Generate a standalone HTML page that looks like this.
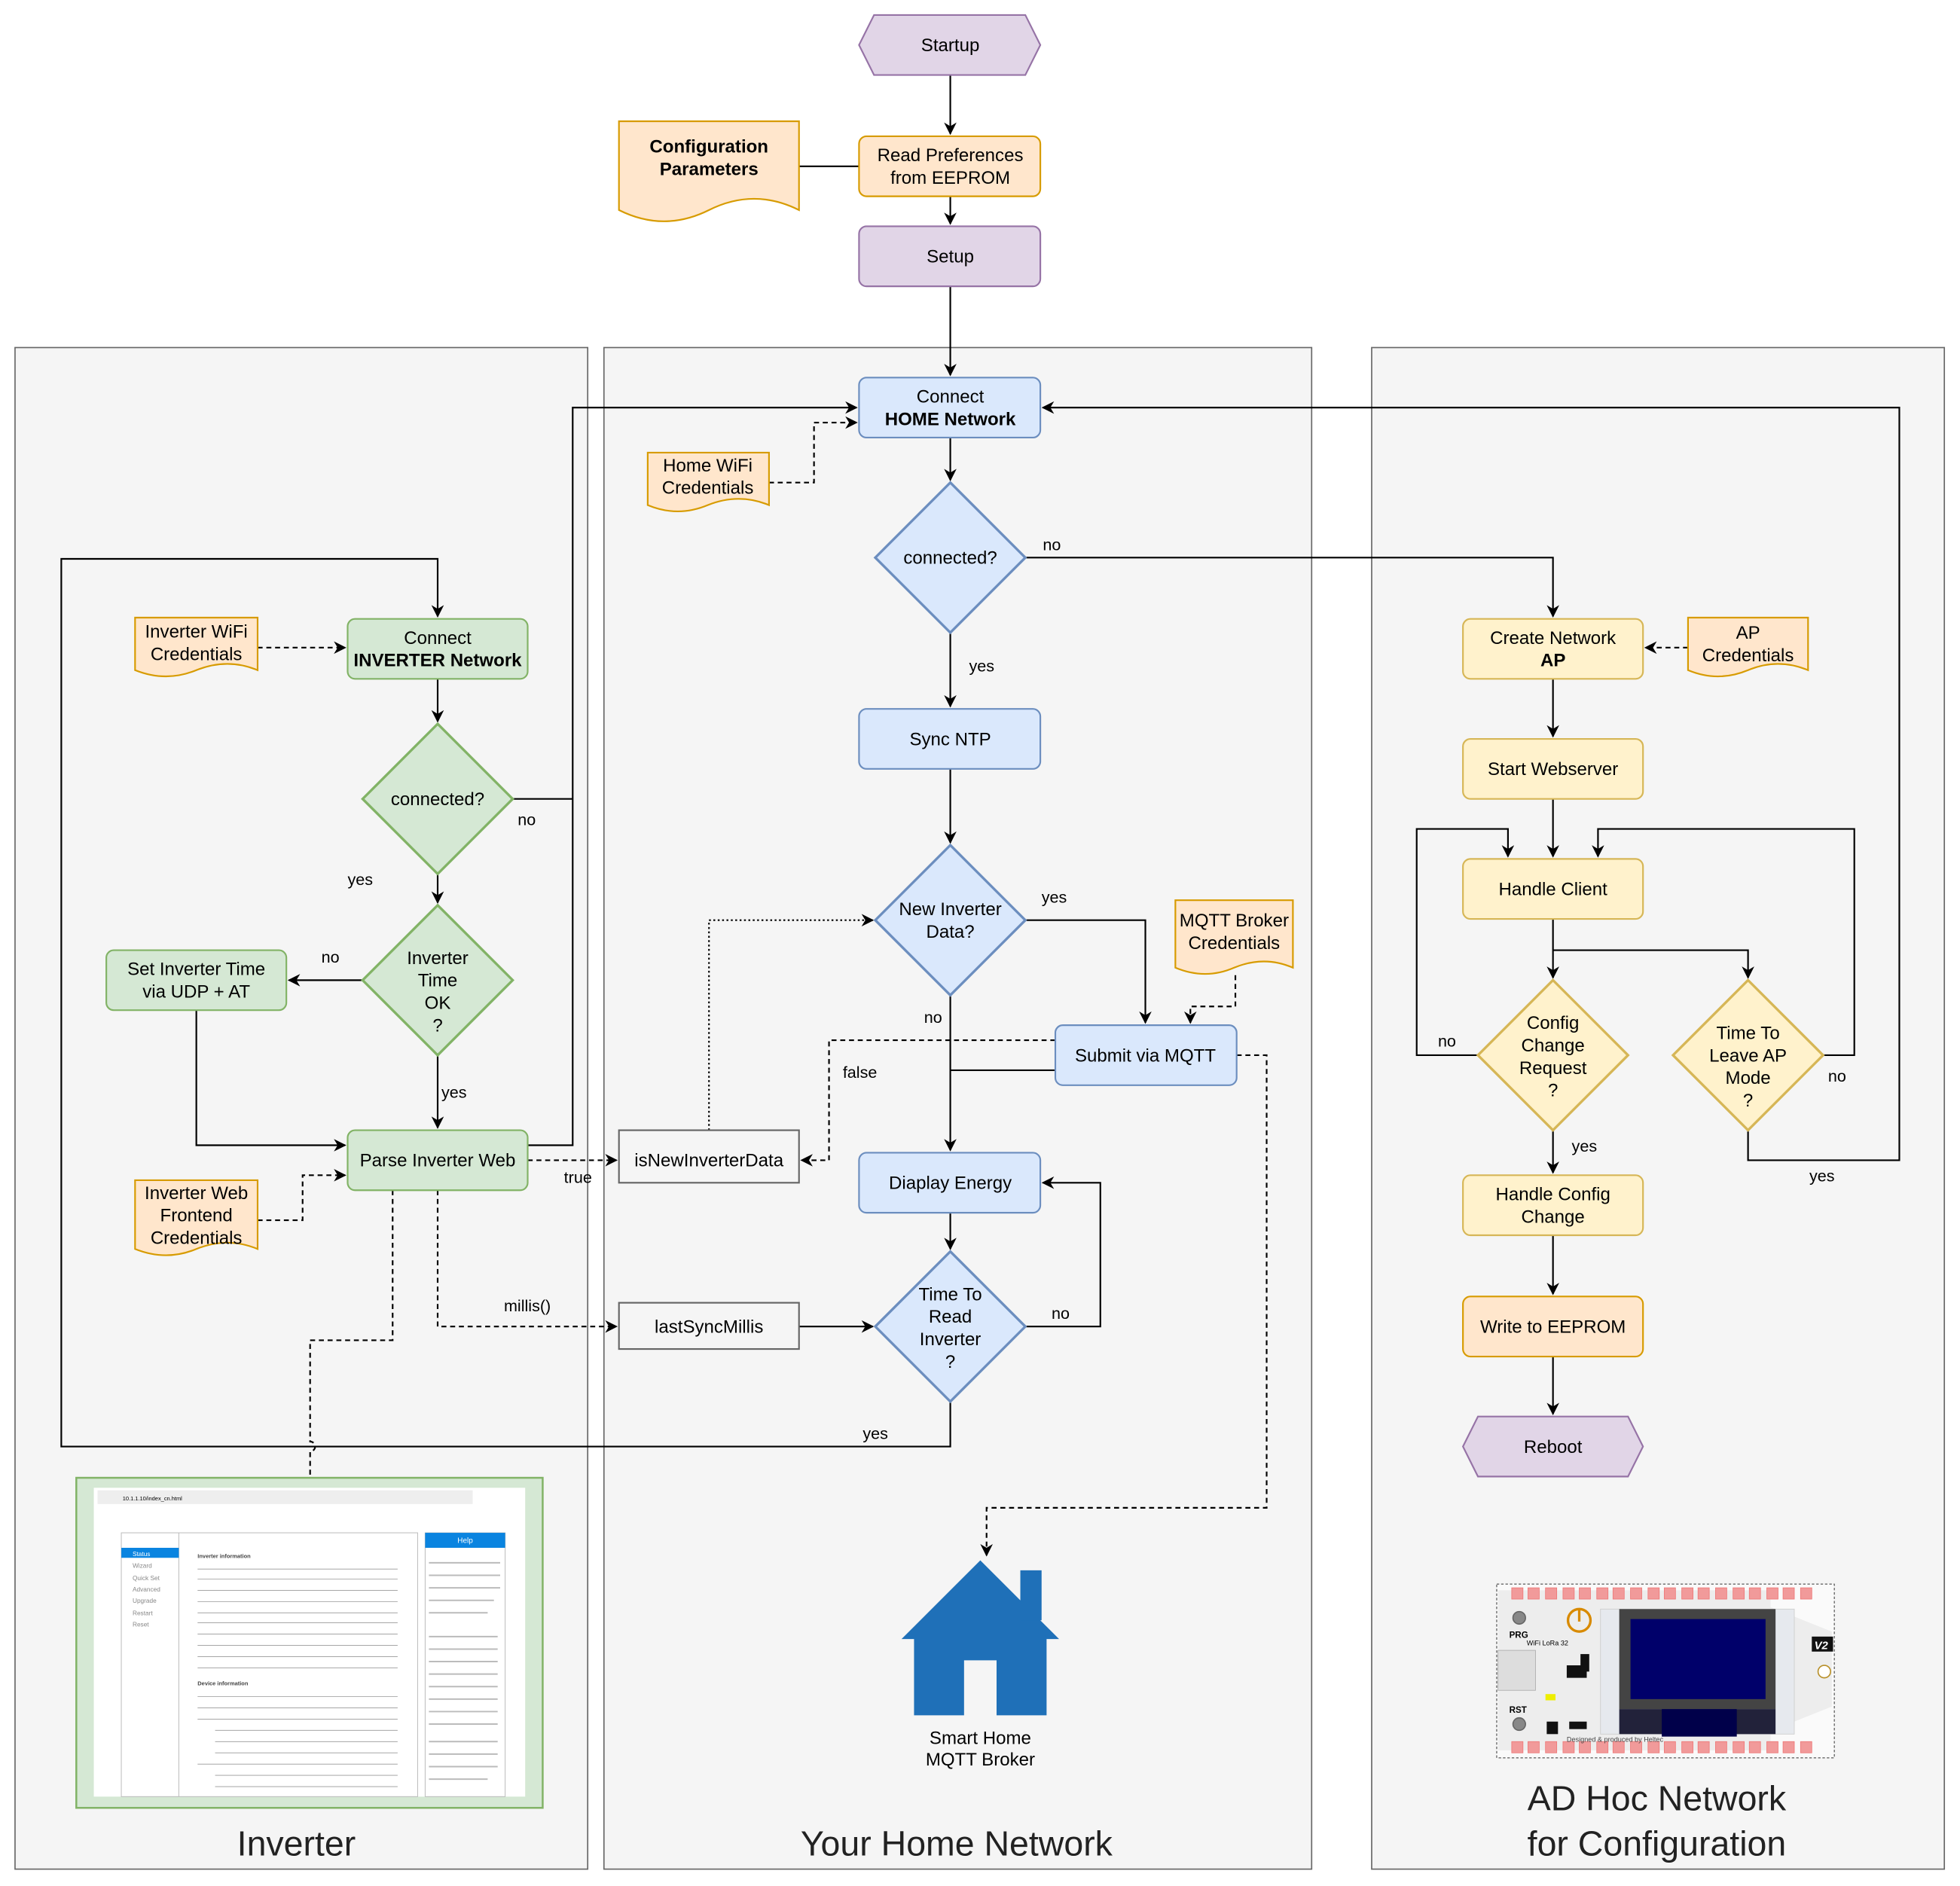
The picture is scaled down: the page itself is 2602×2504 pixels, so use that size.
<!DOCTYPE html>
<html><head><meta charset="utf-8"><style>
html,body{margin:0;padding:0;background:#fff}
svg{display:block}
text{font-family:"Liberation Sans","Noto Sans CJK SC",sans-serif;font-size:14.5px;fill:#000}
.c{text-anchor:middle}
.l{font-size:13px}
.big{font-size:28px;fill:#222}
.ln{fill:none;stroke:#000;stroke-width:1.3}
.d{stroke-dasharray:4 3}
.dt{stroke-dasharray:1.5 2}
.s5 text{font-size:5px;fill:#888}
</style></head><body>
<svg width="2602" height="2504" viewBox="0 0 1567.5 1508.5" xmlns="http://www.w3.org/2000/svg">
<defs>
<marker id="a" markerUnits="userSpaceOnUse" markerWidth="12" markerHeight="12" refX="9" refY="5" orient="auto"><path d="M0,0 L10,5 L0,10 L3,5 Z" fill="#000"/></marker>
</defs>
<rect width="1567.5" height="1508.5" fill="#fff"/>
<!-- containers -->
<rect x="12" y="278" width="458" height="1217" fill="#f5f5f5" stroke="#666"/>
<rect x="483" y="278" width="566" height="1217" fill="#f5f5f5" stroke="#666"/>
<rect x="1097" y="278" width="458" height="1217" fill="#f5f5f5" stroke="#666"/>
<text class="c big" x="237" y="1484">Inverter</text>
<text class="c big" x="765" y="1484">Your Home Network</text>
<text class="c big" x="1325" y="1448">AD Hoc Network</text>
<text class="c big" x="1325" y="1484">for Configuration</text>

<!-- connectors -->
<g class="ln">
<path d="M760,60 V107" marker-end="url(#a)"/>
<path d="M760,157 V179" marker-end="url(#a)"/>
<path d="M639,133 H687"/>
<path d="M760,229 V300" marker-end="url(#a)"/>
<path class="d" d="M615,386 H651 V338 H685" marker-end="url(#a)"/>
<path d="M760,350 V384" marker-end="url(#a)"/>
<path d="M820,446 H1242 V493" marker-end="url(#a)"/>
<path d="M760,506 V565" marker-end="url(#a)"/>
<path d="M760,615 V674" marker-end="url(#a)"/>
<path d="M820,736 H916 V818" marker-end="url(#a)"/>
<path d="M760,796 V920" marker-end="url(#a)"/>
<path d="M844,856 H760"/>
<path class="d" d="M988,780 V805 H952 V818" marker-end="url(#a)"/>
<path class="d" d="M989,844 H1013 V1206 H789 V1244" marker-end="url(#a)"/>
<path class="d" d="M844,832 H663 V928 H641" marker-end="url(#a)"/>
<path class="dt" d="M567,904 V736 H698" marker-end="url(#a)"/>
<path d="M760,970 V999" marker-end="url(#a)"/>
<path d="M820,1061 H880 V946 H834" marker-end="url(#a)"/>
<path d="M760,1121 V1157 H49 V447 H350 V493" marker-end="url(#a)"/>
<path d="M639,1061 H698" marker-end="url(#a)"/>
<path class="d" d="M350,952 V1061 H493" marker-end="url(#a)"/>
<path class="d" d="M422,928 H493" marker-end="url(#a)"/>
<path d="M422,916 H458 V326 H685" marker-end="url(#a)"/>
<path d="M410,639 H458"/>
<path class="d" d="M206,518 H276" marker-end="url(#a)"/>
<path d="M350,543 V577" marker-end="url(#a)"/>
<path d="M350,699 V722" marker-end="url(#a)"/>
<path d="M290,784 H231" marker-end="url(#a)"/>
<path d="M350,844 V902" marker-end="url(#a)"/>
<path d="M157,808 V916 H276" marker-end="url(#a)"/>
<path class="d" d="M206,976 H242 V940 H276" marker-end="url(#a)"/>
<path class="d" d="M314,952 V1072 H248 V1153 A4,4 0 0 1 248,1161 V1182"/>
<path d="M1398,904 V928 H1519 V326 H834" marker-end="url(#a)"/>
<path class="d" d="M1350,518 H1316" marker-end="url(#a)"/>
<path d="M1242,543 V589" marker-end="url(#a)"/>
<path d="M1242,639 V685" marker-end="url(#a)"/>
<path d="M1242,735 V782" marker-end="url(#a)"/>
<path d="M1242,760 H1398 V782" marker-end="url(#a)"/>
<path d="M1182,844 H1133 V663 H1206 V685" marker-end="url(#a)"/>
<path d="M1458,844 H1483 V663 H1278 V685" marker-end="url(#a)"/>
<path d="M1242,904 V938" marker-end="url(#a)"/>
<path d="M1242,988 V1035" marker-end="url(#a)"/>
<path d="M1242,1085 V1131" marker-end="url(#a)"/>
</g>

<!-- edge labels -->
<g class="l">
<text x="834" y="440" class="l">no</text>
<text x="775" y="537" class="l">yes</text>
<text x="833" y="722" class="l">yes</text>
<text x="739" y="818" class="l">no</text>
<text x="674" y="862" class="l">false</text>
<text x="841" y="1055" class="l">no</text>
<text x="690" y="1151" class="l">yes</text>
<text x="403" y="1049" class="l">millis()</text>
<text x="451" y="946" class="l">true</text>
<text x="414" y="660" class="l">no</text>
<text x="278" y="708" class="l">yes</text>
<text x="257" y="770" class="l">no</text>
<text x="353" y="878" class="l">yes</text>
<text x="1447" y="945" class="l">yes</text>
<text x="1150" y="837" class="l">no</text>
<text x="1462" y="865" class="l">no</text>
<text x="1257" y="921" class="l">yes</text>
</g>

<!-- purple -->
<path d="M699,12 H820 L832,36 L820,60 H699 L687,36 Z" fill="#e1d5e7" stroke="#9673a6" stroke-width="1.3"/>
<text class="c" x="760" y="41">Startup</text>
<rect x="687" y="181" width="145" height="48" rx="6" fill="#e1d5e7" stroke="#9673a6" stroke-width="1.3"/>
<text class="c" x="760" y="210">Setup</text>
<path d="M1182,1133 H1302 L1314,1157 L1302,1181 H1182 L1170,1157 Z" fill="#e1d5e7" stroke="#9673a6" stroke-width="1.3"/>
<text class="c" x="1242" y="1162">Reboot</text>

<!-- orange -->
<rect x="687" y="109" width="145" height="48" rx="6" fill="#ffe6cc" stroke="#d79b00" stroke-width="1.3"/>
<text class="c" x="760" y="129">Read Preferences</text>
<text class="c" x="760" y="147">from EEPROM</text>
<rect x="1170" y="1037" width="144" height="48" rx="6" fill="#ffe6cc" stroke="#d79b00" stroke-width="1.3"/>
<text class="c" x="1242" y="1066">Write to EEPROM</text>

<!-- documents -->
<g fill="#ffe6cc" stroke="#d79b00" stroke-width="1.3">
<path d="M495,97 H639 V168 Q603,150 567,168 Q531,186 495,168 Z"/>
<path d="M518,362 H615 V404 Q591,394 566,404 Q542,414 518,404 Z"/>
<path d="M108,494 H206 V536 Q182,526 157,536 Q133,546 108,536 Z"/>
<path d="M108,944 H206 V999 Q182,989 157,999 Q133,1009 108,999 Z"/>
<path d="M940,720 H1034 V774 Q1011,764 987,774 Q964,784 940,774 Z"/>
<path d="M1350,494 H1446 V536 Q1422,526 1398,536 Q1374,546 1350,536 Z"/>
</g>
<text class="c" x="567" y="122" font-weight="bold">Configuration</text>
<text class="c" x="567" y="140" font-weight="bold">Parameters</text>
<text class="c" x="566" y="377">Home WiFi</text>
<text class="c" x="566" y="395">Credentials</text>
<text class="c" x="157" y="510">Inverter WiFi</text>
<text class="c" x="157" y="528">Credentials</text>
<text class="c" x="157" y="959">Inverter Web</text>
<text class="c" x="157" y="977">Frontend</text>
<text class="c" x="157" y="995">Credentials</text>
<text class="c" x="987" y="741">MQTT Broker</text>
<text class="c" x="987" y="759">Credentials</text>
<text class="c" x="1398" y="511">AP</text>
<text class="c" x="1398" y="529">Credentials</text>

<!-- blue -->
<g fill="#dae8fc" stroke="#6c8ebf" stroke-width="1.3">
<rect x="687" y="302" width="145" height="48" rx="6"/>
<path d="M760,386 L820,446 L760,506 L700,446 Z" stroke-width="2"/>
<rect x="687" y="567" width="145" height="48" rx="6"/>
<path d="M760,676 L820,736 L760,796 L700,736 Z" stroke-width="2"/>
<rect x="844" y="820" width="145" height="48" rx="6"/>
<rect x="687" y="922" width="145" height="48" rx="6"/>
<path d="M760,1001 L820,1061 L760,1121 L700,1061 Z" stroke-width="2"/>
</g>
<text class="c" x="760" y="322">Connect</text>
<text class="c" x="760" y="340" font-weight="bold">HOME Network</text>
<text class="c" x="760" y="451">connected?</text>
<text class="c" x="760" y="596">Sync NTP</text>
<text class="c" x="760" y="732">New Inverter</text>
<text class="c" x="760" y="750">Data?</text>
<text class="c" x="916" y="849">Submit via MQTT</text>
<text class="c" x="760" y="951">Diaplay Energy</text>
<text class="c" x="760" y="1040">Time To</text>
<text class="c" x="760" y="1058">Read</text>
<text class="c" x="760" y="1076">Inverter</text>
<text class="c" x="760" y="1094">?</text>

<!-- gray boxes -->
<rect x="495" y="904" width="144" height="42" fill="#f5f5f5" stroke="#666" stroke-width="1.3"/>
<text class="c" x="567" y="933" fill="#333">isNewInverterData</text>
<rect x="495" y="1042" width="144" height="37" fill="#f5f5f5" stroke="#666" stroke-width="1.3"/>
<text class="c" x="567" y="1066" fill="#333">lastSyncMillis</text>

<!-- green -->
<g fill="#d5e8d4" stroke="#82b366" stroke-width="1.3">
<rect x="278" y="495" width="144" height="48" rx="6"/>
<path d="M350,579 L410,639 L350,699 L290,639 Z" stroke-width="2"/>
<path d="M350,724 L410,784 L350,844 L290,784 Z" stroke-width="2"/>
<rect x="85" y="760" width="144" height="48" rx="6"/>
<rect x="278" y="904" width="144" height="48" rx="6"/>
</g>
<text class="c" x="350" y="515">Connect</text>
<text class="c" x="350" y="533" font-weight="bold">INVERTER Network</text>
<text class="c" x="350" y="644">connected?</text>
<text class="c" x="350" y="771">Inverter</text>
<text class="c" x="350" y="789">Time</text>
<text class="c" x="350" y="807">OK</text>
<text class="c" x="350" y="825">?</text>
<text class="c" x="157" y="780">Set Inverter Time</text>
<text class="c" x="157" y="798">via UDP + AT</text>
<text class="c" x="350" y="933">Parse Inverter Web</text>

<!-- yellow -->
<g fill="#fff2cc" stroke="#d6b656" stroke-width="1.3">
<rect x="1170" y="495" width="144" height="48" rx="6"/>
<rect x="1170" y="591" width="144" height="48" rx="6"/>
<rect x="1170" y="687" width="144" height="48" rx="6"/>
<path d="M1242,784 L1302,844 L1242,904 L1182,844 Z" stroke-width="2"/>
<path d="M1398,784 L1458,844 L1398,904 L1338,844 Z" stroke-width="2"/>
<rect x="1170" y="940" width="144" height="48" rx="6"/>
</g>
<text class="c" x="1242" y="515">Create Network</text>
<text class="c" x="1242" y="533" font-weight="bold">AP</text>
<text class="c" x="1242" y="620">Start Webserver</text>
<text class="c" x="1242" y="716">Handle Client</text>
<text class="c" x="1242" y="823">Config</text>
<text class="c" x="1242" y="841">Change</text>
<text class="c" x="1242" y="859">Request</text>
<text class="c" x="1242" y="877">?</text>
<text class="c" x="1398" y="831">Time To</text>
<text class="c" x="1398" y="849">Leave AP</text>
<text class="c" x="1398" y="867">Mode</text>
<text class="c" x="1398" y="885">?</text>
<text class="c" x="1242" y="960">Handle Config</text>
<text class="c" x="1242" y="978">Change</text>

<!-- house -->
<g fill="#1f70b8">
<path d="M784,1248 L847,1311 L837,1311 L837,1372 L797,1372 L797,1328 L771,1328 L771,1372 L731,1372 L731,1311 L721,1311 Z"/>
<rect x="816" y="1256" width="17" height="40"/>
</g>
<text class="c" x="784" y="1395">Smart Home</text>
<text class="c" x="784" y="1412">MQTT Broker</text>

<!-- screenshot -->
<rect x="61" y="1182" width="373" height="264" fill="#d5e8d4" stroke="#82b366" stroke-width="1.5"/>
<rect x="75" y="1190" width="345" height="247" fill="#fff"/>
<rect x="78" y="1192" width="300" height="11" fill="#eee"/>
<text x="98" y="1200" style="font-size:4.5px" fill="#555">10.1.1.10/index_cn.html</text>
<rect x="97" y="1226" width="237" height="211" fill="#fff" stroke="#bbb" stroke-width="0.6"/>
<line x1="143" y1="1226" x2="143" y2="1437" stroke="#bbb" stroke-width="0.6"/>
<rect x="97" y="1238" width="46" height="8" fill="#0a84e0"/>
<text x="106" y="1244.5" style="font-size:5px;fill:#fff">Status</text>
<g class="s5">
<text x="106" y="1254">Wizard</text><text x="106" y="1264">Quick Set</text><text x="106" y="1273">Advanced</text><text x="106" y="1282">Upgrade</text><text x="106" y="1292">Restart</text><text x="106" y="1301">Reset</text>
</g>
<text x="158" y="1246" style="font-size:4.5px;font-weight:bold;fill:#444">Inverter information</text>
<text x="158" y="1348" style="font-size:4.5px;font-weight:bold;fill:#444">Device information</text>
<g stroke="#999" stroke-width="0.5">
<line x1="158" y1="1255" x2="318" y2="1255"/><line x1="158" y1="1263" x2="318" y2="1263"/><line x1="158" y1="1272" x2="318" y2="1272"/><line x1="158" y1="1281" x2="318" y2="1281"/><line x1="158" y1="1290" x2="318" y2="1290"/><line x1="158" y1="1298" x2="318" y2="1298"/><line x1="158" y1="1307" x2="318" y2="1307"/><line x1="158" y1="1316" x2="318" y2="1316"/><line x1="158" y1="1325" x2="318" y2="1325"/><line x1="158" y1="1334" x2="318" y2="1334"/>
<line x1="158" y1="1357" x2="318" y2="1357"/><line x1="158" y1="1366" x2="318" y2="1366"/><line x1="158" y1="1375" x2="318" y2="1375"/><line x1="172" y1="1384" x2="318" y2="1384"/><line x1="172" y1="1393" x2="318" y2="1393"/><line x1="172" y1="1402" x2="318" y2="1402"/><line x1="158" y1="1411" x2="318" y2="1411"/><line x1="172" y1="1420" x2="318" y2="1420"/><line x1="172" y1="1429" x2="318" y2="1429"/>
</g>
<rect x="340" y="1226" width="64" height="211" fill="#fff" stroke="#bbb" stroke-width="0.6"/>
<rect x="340" y="1226" width="64" height="12" fill="#0a84e0"/>
<text class="c" x="372" y="1234" style="font-size:6px;fill:#fff">Help</text>
<g stroke="#bbb" stroke-width="1.2">
<line x1="343" y1="1250" x2="400" y2="1250"/><line x1="343" y1="1260" x2="400" y2="1260"/><line x1="343" y1="1270" x2="400" y2="1270"/><line x1="343" y1="1280" x2="395" y2="1280"/><line x1="343" y1="1290" x2="390" y2="1290"/><line x1="343" y1="1309" x2="398" y2="1309"/><line x1="343" y1="1319" x2="398" y2="1319"/><line x1="343" y1="1329" x2="398" y2="1329"/><line x1="343" y1="1339" x2="398" y2="1339"/><line x1="343" y1="1349" x2="398" y2="1349"/><line x1="343" y1="1359" x2="398" y2="1359"/><line x1="343" y1="1369" x2="398" y2="1369"/><line x1="343" y1="1379" x2="398" y2="1379"/><line x1="343" y1="1393" x2="398" y2="1393"/><line x1="343" y1="1403" x2="398" y2="1403"/><line x1="343" y1="1413" x2="398" y2="1413"/><line x1="343" y1="1423" x2="390" y2="1423"/>
</g>

<!-- board -->
<rect x="1197" y="1267" width="270" height="139" fill="#fafafa" stroke="#333" stroke-width="0.6" stroke-dasharray="2 1.5"/>
<rect x="1198" y="1272" width="218" height="128" fill="#ededed"/>
<path d="M1415,1285 L1465,1305 V1365 L1415,1385 Z" fill="#ededed"/>
<g fill="#f19a9a" stroke="#e77" stroke-width="0.5">
<rect x="1209" y="1270" width="9" height="9"/><rect x="1222" y="1270" width="9" height="9"/><rect x="1236" y="1270" width="9" height="9"/><rect x="1250" y="1270" width="9" height="9"/><rect x="1263" y="1270" width="9" height="9"/><rect x="1277" y="1270" width="9" height="9"/><rect x="1290" y="1270" width="9" height="9"/><rect x="1304" y="1270" width="9" height="9"/><rect x="1318" y="1270" width="9" height="9"/><rect x="1331" y="1270" width="9" height="9"/><rect x="1345" y="1270" width="9" height="9"/><rect x="1358" y="1270" width="9" height="9"/><rect x="1372" y="1270" width="9" height="9"/><rect x="1386" y="1270" width="9" height="9"/><rect x="1399" y="1270" width="9" height="9"/><rect x="1413" y="1270" width="9" height="9"/><rect x="1426" y="1270" width="9" height="9"/><rect x="1440" y="1270" width="9" height="9"/>
<rect x="1209" y="1393" width="9" height="9"/><rect x="1222" y="1393" width="9" height="9"/><rect x="1236" y="1393" width="9" height="9"/><rect x="1250" y="1393" width="9" height="9"/><rect x="1263" y="1393" width="9" height="9"/><rect x="1277" y="1393" width="9" height="9"/><rect x="1290" y="1393" width="9" height="9"/><rect x="1304" y="1393" width="9" height="9"/><rect x="1318" y="1393" width="9" height="9"/><rect x="1331" y="1393" width="9" height="9"/><rect x="1345" y="1393" width="9" height="9"/><rect x="1358" y="1393" width="9" height="9"/><rect x="1372" y="1393" width="9" height="9"/><rect x="1386" y="1393" width="9" height="9"/><rect x="1399" y="1393" width="9" height="9"/><rect x="1413" y="1393" width="9" height="9"/><rect x="1426" y="1393" width="9" height="9"/><rect x="1440" y="1393" width="9" height="9"/>
</g>
<rect x="1280" y="1287" width="155" height="100" fill="#e6e9ee" stroke="#ccc" stroke-width="0.5"/>
<rect x="1295" y="1287" width="125" height="80" fill="#444"/>
<rect x="1304" y="1295" width="108" height="64" fill="#00006a"/>
<rect x="1295" y="1367" width="125" height="20" fill="#22223a"/>
<rect x="1329" y="1367" width="60" height="22" fill="#00004a"/>
<circle cx="1263" cy="1296" r="9" fill="none" stroke="#d88a00" stroke-width="2"/>
<line x1="1263" y1="1287" x2="1263" y2="1297" stroke="#d88a00" stroke-width="2"/>
<circle cx="1215" cy="1294" r="5" fill="#888" stroke="#666"/>
<circle cx="1215" cy="1379" r="5" fill="#888" stroke="#666"/>
<text x="1207" y="1310" style="font-size:7px;font-weight:bold">PRG</text>
<text x="1207" y="1370" style="font-size:7px;font-weight:bold">RST</text>
<text x="1221" y="1316" style="font-size:5.5px">WiFi  LoRa  32</text>
<rect x="1198" y="1320" width="30" height="32" fill="#ddd" stroke="#aaa" stroke-width="0.5"/>
<rect x="1253" y="1332" width="16" height="10" fill="#111"/>
<rect x="1237" y="1377" width="9" height="10" fill="#111"/>
<rect x="1255" y="1377" width="14" height="6" fill="#111"/>
<rect x="1236" y="1355" width="8" height="5" fill="#ee0"/>
<rect x="1264" y="1323" width="7" height="14" fill="#111"/>
<rect x="1449" y="1309" width="17" height="12" fill="#111"/>
<text x="1451" y="1319" style="font-size:9px;font-weight:bold;font-style:italic;fill:#fff">V2</text>
<circle cx="1459" cy="1337" r="5" fill="#fff" stroke="#b8902a" stroke-width="1"/>
<text x="1253" y="1393" style="font-size:5.5px;fill:#444">Designed &amp; produced by Heltec</text>
</svg>
</body></html>
